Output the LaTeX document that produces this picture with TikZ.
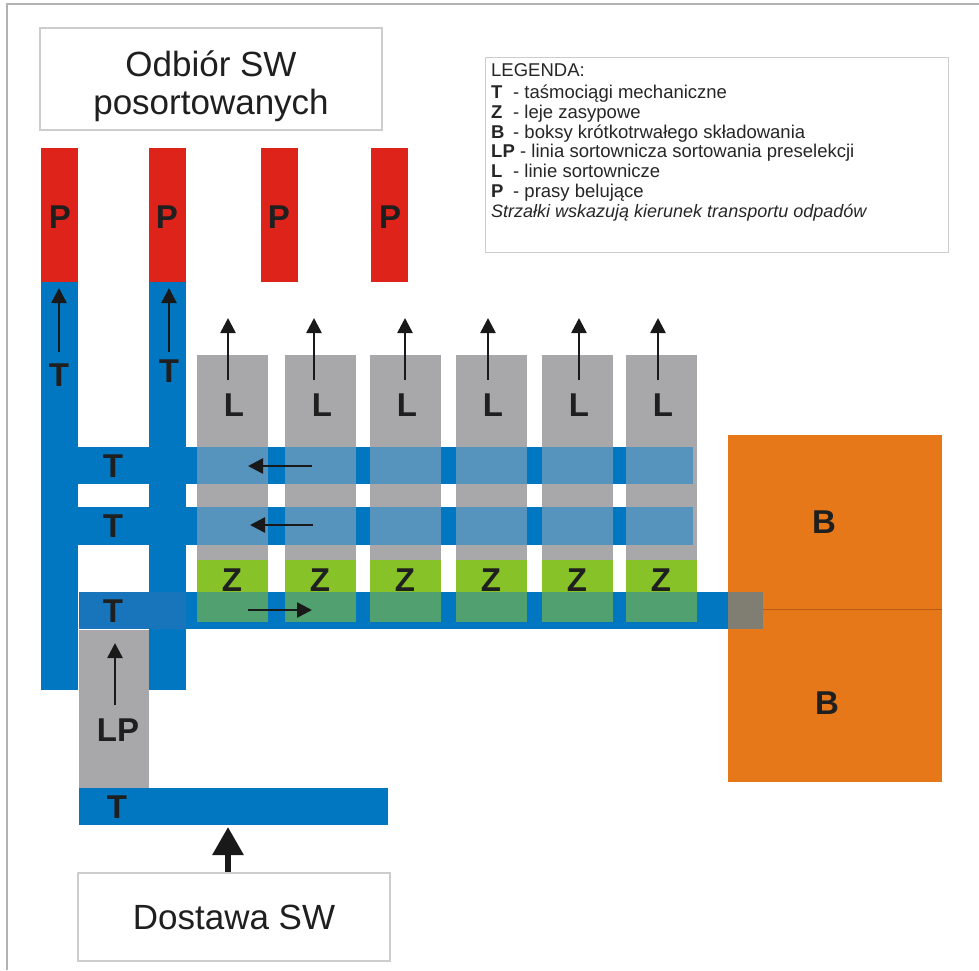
\documentclass[tikz,border=0pt]{standalone}
\usepackage{fontspec}
\setmainfont{Liberation Sans}
\usetikzlibrary{arrows.meta, positioning}

\definecolor{TasmaBlue}{RGB}{0,119,192}
\definecolor{TasmaDark}{RGB}{24,117,187}
\definecolor{PrasaRed}{RGB}{222,35,26}
\definecolor{LiniaGrey}{RGB}{168,168,170}
\definecolor{LiniaBlue}{RGB}{86,148,190}
\definecolor{LejGreen}{RGB}{134,194,40}
\definecolor{LejDark}{RGB}{80,160,112}
\definecolor{BoksOrange}{RGB}{230,120,25}
\definecolor{BoksLine}{RGB}{185,90,20}
\definecolor{BoksGrey}{RGB}{128,126,115}
\definecolor{RamkaGrey}{RGB}{205,205,205}

\tikzset{
  etykieta/.style={font=\fontsize{33}{33}\selectfont\bfseries, text=black!88, inner sep=0pt},
  kierunek/.style={line width=2.6pt, black!90, -{Triangle[width=15pt,length=15pt]}},
  ramka/.style={draw=RamkaGrey, line width=1.2pt, fill=white},
  legtekst/.style={font=\fontsize{18.5}{18.5}\selectfont, text=black!85, anchor=base west, inner sep=0pt},
  legznak/.style={legtekst, font=\fontsize{18.5}{18.5}\selectfont\bfseries},
}

\begin{document}
\begin{tikzpicture}[x=1pt, y=-1pt]
  \useasboundingbox (0,0) rectangle (979,970);
  % frame of the sheet
  \draw[gray!60, line width=1.2pt] (979,4) -- (7,4) -- (7,970);

  % Odbior box
  \node[ramka, minimum width=342pt, minimum height=102pt] (odbior) at (211,79) {};
  \node[align=center, font=\fontsize{35}{38}\selectfont, text=black!88, inner sep=0pt] (odbiortekst) at (211,86) {Odbiór SW\\posortowanych};

  % Legend
  \node[ramka, anchor=north west, minimum width=463pt, minimum height=195pt] (legenda) at (485,57) {};
  \node[legtekst] (legnaglowek) at (491,76) {LEGENDA:};
  \node[legznak] (legT) at (491,98) {T};
  \node[legtekst] at (513,98) {- taśmociągi mechaniczne};
  \node[legznak] (legZ) at (491,118) {Z};
  \node[legtekst] at (513,118) {- leje zasypowe};
  \node[legznak] (legB) at (491,138) {B};
  \node[legtekst] at (513,138) {- boksy krótkotrwałego składowania};
  \node[legznak] (legLP) at (491,157.5) {LP};
  \node[legtekst] at (520,157.5) {- linia sortownicza sortowania preselekcji};
  \node[legznak] (legL) at (491,177) {L};
  \node[legtekst] at (513,177) {- linie sortownicze};
  \node[legznak] (legP) at (491,197) {P};
  \node[legtekst] at (513,197) {- prasy belujące};
  \node[legtekst, font=\fontsize{18}{18}\selectfont\itshape] (legstrzalki) at (491,217) {Strzałki wskazują kierunek transportu odpadów};

  % Presses
  \fill[PrasaRed] (41,148) rectangle (78,282);
  \fill[PrasaRed] (149,148) rectangle (186,282);
  \fill[PrasaRed] (261,148) rectangle (298,282);
  \fill[PrasaRed] (371,148) rectangle (408,282);
  \node[etykieta] (p1) at (60,217) {P};
  \node[etykieta] (p2) at (167,217) {P};
  \node[etykieta] (p3) at (279,217) {P};
  \node[etykieta] (p4) at (390,217) {P};

  % Vertical conveyors
  \fill[TasmaBlue] (41,282) rectangle (78,690);
  \fill[TasmaBlue] (149,282) rectangle (186,690);
  % Horizontal conveyors under the sorting lines
  \fill[TasmaBlue] (41,447) rectangle (693,484);
  \fill[TasmaBlue] (41,507) rectangle (693,545);
  % Conveyor to the boxes
  \fill[TasmaBlue] (79,592) rectangle (763,629);
  \fill[TasmaDark] (79,592) rectangle (186,629);

  % Sorting lines and hoppers
  \foreach \xl/\xa in {197/228, 285/314, 370/405, 456/488, 542/579, 626/658}{
    \pgfmathsetmacro{\xr}{\xl+71}
    \pgfmathsetmacro{\xt}{min(\xl+71,693)}
    \fill[LiniaGrey] (\xl,355) rectangle (\xr,560);
    \fill[LiniaBlue] (\xl,447) rectangle (\xt,484);
    \fill[LiniaBlue] (\xl,507) rectangle (\xt,545);
    \fill[LejGreen] (\xl,560) rectangle (\xr,622);
    \fill[LejDark] (\xl,592) rectangle (\xr,622);
    \node[etykieta] at (\xl+37,405) {L};
    \node[etykieta] at (\xl+35,580) {Z};
    \draw[kierunek] (\xa,380) -- (\xa,318);
  }

  % Preselection line and feed conveyor
  \fill[LiniaGrey] (79,630) rectangle (149,788);
  \fill[TasmaBlue] (79,788) rectangle (388,825);
  \coordinate (wlot) at (228,827);

  % Storage boxes
  \fill[BoksOrange] (728,435) rectangle (942,782);
  \draw[BoksLine, line width=0.8pt] (728,609) -- (942,609);
  \fill[BoksGrey] (728,592) rectangle (763,629);
  \node[etykieta] (b1) at (824,522) {B};
  \node[etykieta] (b2) at (827,703) {B};

  % Conveyor labels
  \node[etykieta] (t1) at (59,375) {T};
  \node[etykieta] (t2) at (169,371) {T};
  \node[etykieta] (t3) at (113,466) {T};
  \node[etykieta] (t4) at (113,526) {T};
  \node[etykieta] (t5) at (113,611) {T};
  \node[etykieta] (t6) at (117,807) {T};
  \node[etykieta] (lp) at (118,730) {LP};

  % Transport directions
  \draw[kierunek] (59,352) -- (59,288);
  \draw[kierunek] (169,352) -- (169,288);
  \draw[kierunek] (312,466) -- (248,466);
  \draw[kierunek] (313,525) -- (250,525);
  \draw[kierunek] (248,610) -- (312,610);
  \draw[kierunek] (115,705) -- (115,643);

  % Delivery box
  \node[ramka, minimum width=312pt, minimum height=88pt,
        font=\fontsize{35}{39}\selectfont, text=black!88] (dostawa) at (234,917) {Dostawa SW};
  \draw[line width=6pt, black!90, -{Triangle[width=30pt,length=28pt]}] (dostawa.north -| wlot) -- (wlot);
\end{tikzpicture}
\end{document}
